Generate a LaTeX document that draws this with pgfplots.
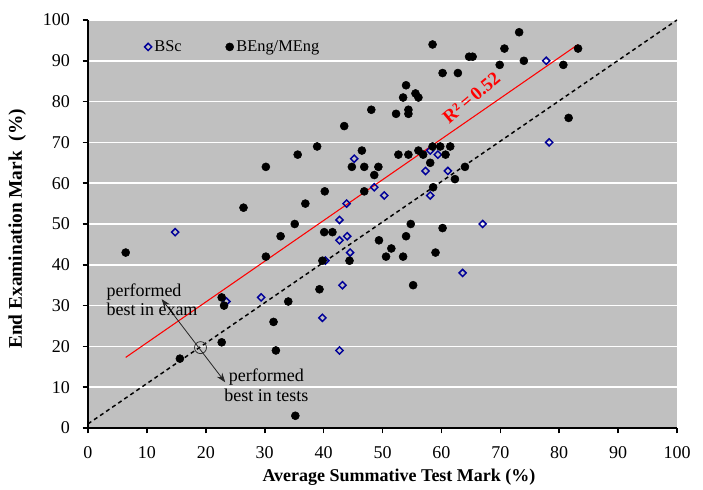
\documentclass[border=0pt]{standalone}
\usepackage{fontspec}
\setmainfont{Liberation Serif}
\usepackage{pgfplots}
\pgfplotsset{compat=1.18}
\usetikzlibrary{arrows.meta}
\definecolor{bgray}{HTML}{C0C0C0}
\definecolor{bscblue}{HTML}{000099}
\begin{document}
\begin{tikzpicture}
\begin{axis}[
  scale only axis, width=441.75pt, height=306pt,
  xmin=0, xmax=100, ymin=0, ymax=100,
  xtick={0,10,...,100}, ytick={0,10,...,100},
  axis x line*=bottom, axis y line*=left,
  axis line style={line width=1.5pt, -},
  tick style={line width=1.2pt, black}, major tick length=4pt, tick align=outside,
  ymajorgrids, grid style={white, line width=1.2pt},
  axis background/.style={fill=bgray},
  /pgf/number format/assume math mode=true,
  tick label style={font=\fontsize{13.5}{15}\selectfont},
  xticklabel style={yshift=-6pt},
  yticklabel style={xshift=-6pt},
  xlabel={\textbf{Average Summative Test Mark (\%)}},
  ylabel={\textbf{End Examination Mark\ \ (\%)}},
  xlabel style={at={(axis description cs:0.528,-0.13)}, anchor=base, font=\fontsize{13.5}{15}\selectfont},
  ylabel style={at={(axis description cs:-0.12,0.488)}, anchor=center, font=\fontsize{14.5}{16}\selectfont},
  legend style={at={(axis cs:9.6,93.4)}, anchor=west, draw=none, fill=none,
    inner sep=0pt, outer sep=0pt,
    legend columns=2, font=\fontsize{12.3}{14}\selectfont,
    /tikz/every even column/.append style={column sep=31pt}},
  legend image code/.code={\draw[mark repeat=2,mark phase=2,#1] plot coordinates {(0pt,0pt) (4pt,0pt) (8pt,0pt)};},
]
\addplot[only marks, mark=square, mark size=1.9pt, draw=bscblue, line width=1.1pt,
  every mark/.append style={rotate=45}] coordinates {
(14.8,48) (45.2,66) (48.6,59) (50.3,57) (43.9,55) (42.7,51) (42.7,46) (44.0,47)
(44.5,43) (40.3,41) (43.2,35) (39.8,27) (42.7,19) (29.4,32) (23.5,31) (58.1,68)
(59.4,67) (57.3,63) (61.1,63) (58.1,57) (67.0,50) (63.6,38) (77.8,90) (78.3,70)
};
\addlegendentry{BSc}
\addplot[only marks, mark=*, mark size=3pt, draw=black, fill=black] coordinates {
(6.4,43) (15.6,17) (22.7,32) (23.1,30) (22.7,21) (26.4,54) (30.2,64) (30.2,42)
(31.5,26) (31.9,19) (32.7,47) (34.0,31) (35.1,50) (35.2,3) (35.6,67) (36.9,55)
(38.9,69) (39.3,34) (39.8,41) (40.1,48) (40.2,58) (41.5,48) (43.5,74) (44.4,41)
(44.8,64) (46.5,68) (46.9,64) (46.9,58) (48.1,78) (48.6,62) (49.3,64) (49.4,46)
(50.6,42) (51.5,44) (52.3,77) (52.7,67) (53.5,81) (53.5,42) (54.0,84) (54.0,47)
(54.4,78) (54.4,77) (54.4,67) (54.8,50) (55.2,35) (55.6,82) (56.1,81) (56.1,68)
(56.9,67) (58.1,65) (58.5,69) (58.5,94) (58.6,59) (59.0,43) (59.8,69) (60.2,87)
(60.2,49) (60.7,67) (61.5,69) (62.3,61) (62.8,87) (64.0,64) (64.7,91) (65.3,91)
(69.9,89) (70.7,93) (73.2,97) (74.0,90) (80.7,89) (81.6,76) (83.2,93)
};
\addlegendentry{BEng/MEng}
\addplot[forget plot, red, line width=0.8pt] coordinates {(6.4,17.3) (83.2,94.0)};
\addplot[forget plot, black, line width=1.1pt, dash pattern=on 3pt off 2.5pt] coordinates {(0,1) (100,100)};
\node[red, font=\bfseries\fontsize{14}{16}\selectfont, rotate=40] at (axis cs:65.1,81) {R²\,=\,0.52};
\draw[black!80, line width=0.6pt] (axis cs:19.1,19.7) circle (4.5pt);
\draw[black!85, line width=0.6pt, {Stealth[length=7pt,width=5pt]}-{Stealth[length=7pt,width=5pt]}] (axis cs:12.5,31.6) -- (axis cs:23.3,11.2);
\node[anchor=west, align=left, inner sep=0pt, font=\fontsize{13.5}{14.5}\selectfont] at (axis cs:3.1,31.4) {performed\\best in exam};
\node[anchor=center, align=center, inner sep=0pt, font=\fontsize{13.5}{14.5}\selectfont] at (axis cs:30.3,10.5) {performed\\best in tests};
\end{axis}
\path[use as bounding box] ([xshift=-66pt,yshift=-43.5pt]current axis.south west) rectangle ([xshift=19.5pt,yshift=15pt]current axis.north east);
\end{tikzpicture}
\end{document}
